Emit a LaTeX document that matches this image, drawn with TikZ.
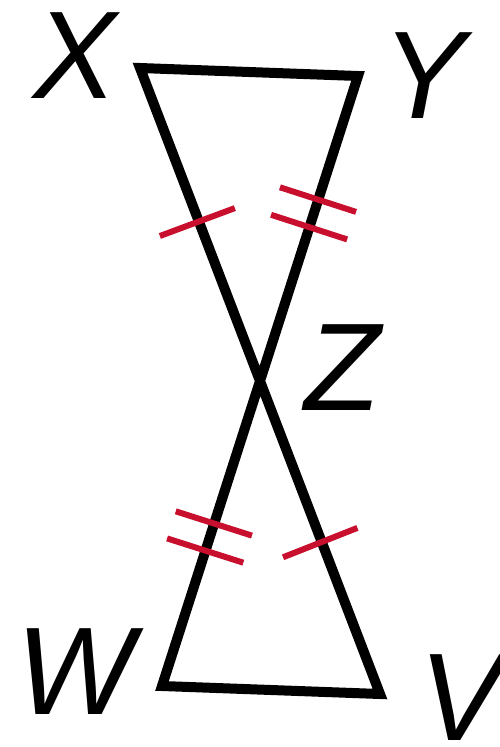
\documentclass[tikz,border=0pt]{standalone}
\usepackage{fontspec}
\setmainfont{Liberation Sans}
\usetikzlibrary{calc}
\definecolor{tickred}{HTML}{C8102E}
\tikzset{
    side/.style={
        line width=0.2cm, line join=miter, color=black
    },
    tickmark/.style={
        line width=0.12cm, color=tickred
    },
    vlabel/.style={
        font=\fontsize{71}{80}\selectfont\itshape, inner sep=0pt
    }
}
\begin{document}
\begin{tikzpicture}[x=0.02cm, y=-0.02cm]

    \useasboundingbox (0,0) rectangle (500,747);

    % Vertices
    \coordinate (X) at (140,68);
    \coordinate (Y) at (358,76);
    \coordinate (Z) at (258,385);
    \coordinate (W) at (162,686);
    \coordinate (V) at (380,694);

    % Labels
    \node[vlabel] (lx) at (75,56) {X};
    \node[vlabel] (ly) at (424,76) {Y};
    \node[vlabel] (lz) at (343,368) {Z};
    \node[vlabel] (lw) at (75,672) {W};
    \node[vlabel] (lv) at (461,698) {V};

    % Sides
    \draw[side] (X) -- (Y) -- (W) -- (V) -- cycle;

    % Tick marks
    \coordinate (m1) at ($(X)!0.486!(Z)$);
    \coordinate (m2) at ($(Y)!0.40!(Z)$);
    \coordinate (m3) at ($(Y)!0.489!(Z)$);
    \coordinate (m4) at ($(Z)!0.46!(W)$);
    \coordinate (m5) at ($(Z)!0.55!(W)$);
    \coordinate (m6) at ($(Z)!0.51!(V)$);
    \foreach \m/\e in {m1/Z, m2/Z, m3/Z, m4/W, m5/W, m6/V}
        \draw[tickmark] ($(\m)!0.8cm!90:(\e)$) -- ($(\m)!0.8cm!-90:(\e)$);

\end{tikzpicture}
\end{document}
